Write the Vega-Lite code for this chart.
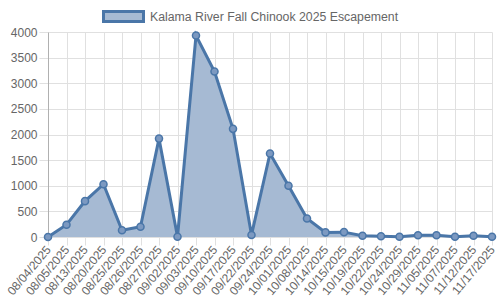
{
  "$schema": "https://vega.github.io/schema/vega-lite/v6.json",
  "width": 444,
  "height": 205,
  "autosize": {"type": "none"},
  "padding": {"left": 48, "top": 32, "right": 8, "bottom": 63},
  "background": "white",
  "config": {
    "view": {"stroke": null},
    "font": "Liberation Sans",
    "axis": {"labelFont": "Liberation Sans", "labelFontSize": 12, "labelColor": "#666666", "gridColor": "#e0e0e0", "tickColor": "#e0e0e0", "domainColor": "#bbbbbb"}
  },
  "data": {
    "values": [
      {"date": "08/04/2025", "count": 0, "series": "Kalama River Fall Chinook 2025 Escapement"},
      {"date": "08/05/2025", "count": 240, "series": "Kalama River Fall Chinook 2025 Escapement"},
      {"date": "08/13/2025", "count": 700, "series": "Kalama River Fall Chinook 2025 Escapement"},
      {"date": "08/20/2025", "count": 1030, "series": "Kalama River Fall Chinook 2025 Escapement"},
      {"date": "08/25/2025", "count": 130, "series": "Kalama River Fall Chinook 2025 Escapement"},
      {"date": "08/26/2025", "count": 200, "series": "Kalama River Fall Chinook 2025 Escapement"},
      {"date": "08/27/2025", "count": 1920, "series": "Kalama River Fall Chinook 2025 Escapement"},
      {"date": "09/02/2025", "count": 5, "series": "Kalama River Fall Chinook 2025 Escapement"},
      {"date": "09/03/2025", "count": 3930, "series": "Kalama River Fall Chinook 2025 Escapement"},
      {"date": "09/10/2025", "count": 3230, "series": "Kalama River Fall Chinook 2025 Escapement"},
      {"date": "09/17/2025", "count": 2110, "series": "Kalama River Fall Chinook 2025 Escapement"},
      {"date": "09/22/2025", "count": 40, "series": "Kalama River Fall Chinook 2025 Escapement"},
      {"date": "09/24/2025", "count": 1630, "series": "Kalama River Fall Chinook 2025 Escapement"},
      {"date": "10/01/2025", "count": 1000, "series": "Kalama River Fall Chinook 2025 Escapement"},
      {"date": "10/08/2025", "count": 360, "series": "Kalama River Fall Chinook 2025 Escapement"},
      {"date": "10/14/2025", "count": 90, "series": "Kalama River Fall Chinook 2025 Escapement"},
      {"date": "10/15/2025", "count": 95, "series": "Kalama River Fall Chinook 2025 Escapement"},
      {"date": "10/19/2025", "count": 25, "series": "Kalama River Fall Chinook 2025 Escapement"},
      {"date": "10/22/2025", "count": 15, "series": "Kalama River Fall Chinook 2025 Escapement"},
      {"date": "10/24/2025", "count": 5, "series": "Kalama River Fall Chinook 2025 Escapement"},
      {"date": "10/29/2025", "count": 35, "series": "Kalama River Fall Chinook 2025 Escapement"},
      {"date": "11/05/2025", "count": 35, "series": "Kalama River Fall Chinook 2025 Escapement"},
      {"date": "11/07/2025", "count": 5, "series": "Kalama River Fall Chinook 2025 Escapement"},
      {"date": "11/12/2025", "count": 25, "series": "Kalama River Fall Chinook 2025 Escapement"},
      {"date": "11/17/2025", "count": 5, "series": "Kalama River Fall Chinook 2025 Escapement"}
    ]
  },
  "encoding": {
    "x": {
      "field": "date", "type": "ordinal", "sort": null,
      "scale": {"type": "point", "padding": 0},
      "axis": {"title": null, "labelAngle": -50, "labelAlign": "right", "labelBaseline": "middle", "tickSize": 8, "labelPadding": 2, "grid": true, "domain": false}
    },
    "y": {
      "field": "count", "type": "quantitative",
      "scale": {"domain": [0, 4000], "nice": false},
      "axis": {"title": null, "format": "d", "values": [0, 500, 1000, 1500, 2000, 2500, 3000, 3500, 4000], "tickSize": 9, "labelPadding": 2, "grid": true, "domainColor": "#b0b0b0"}
    }
  },
  "layer": [
    {
      "mark": {"type": "area", "fillOpacity": 1},
      "encoding": {
        "color": {
          "field": "series", "type": "nominal",
          "scale": {"range": ["#a6bad3"]},
          "legend": {
            "title": null, "orient": "none", "legendX": 54, "legendY": -37,
            "symbolType": "M-1,-0.25H1V0.25H-1Z", "symbolSize": 1600,
            "symbolFillColor": "#a6bad3", "symbolOpacity": 1,
            "labelFont": "Liberation Sans", "labelFontSize": 12.3, "labelColor": "#666666", "labelOffset": 5, "labelLimit": 400,
            "encode": {"symbols": {"update": {"stroke": {"value": "#4a76a8"}, "strokeWidth": {"value": 3}, "fill": {"value": "#a6bad3"}, "opacity": {"value": 1}}}}
          }
        }
      }
    },
    {
      "mark": {"type": "line", "color": "#4a76a8", "strokeWidth": 3}
    },
    {
      "mark": {"type": "point", "filled": true, "size": 50, "fill": "#7c99c1", "stroke": "#4a76a8", "strokeWidth": 1.5, "opacity": 1}
    }
  ]
}
